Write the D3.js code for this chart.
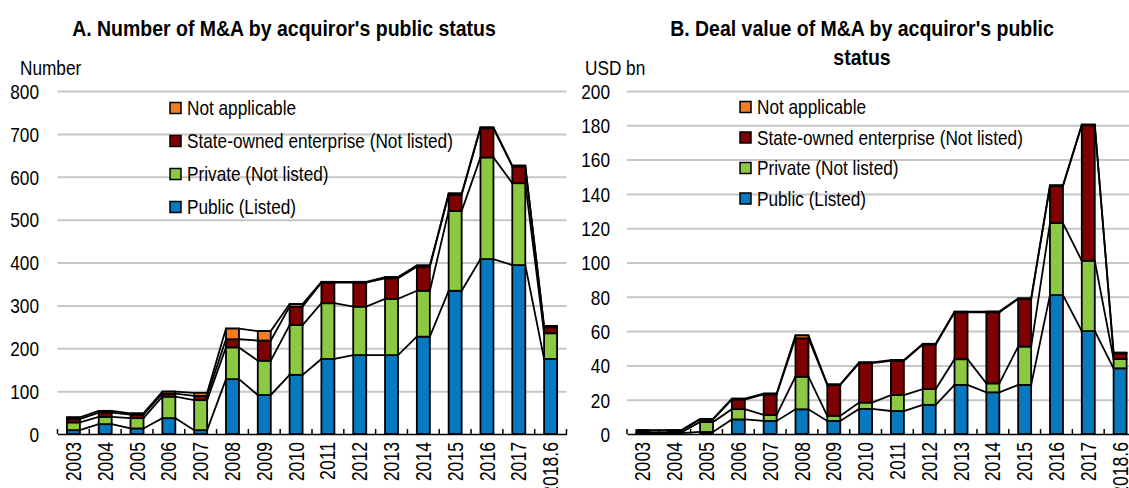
<!DOCTYPE html>
<html>
<head>
<meta charset="utf-8">
<script src="https://cdn.jsdelivr.net/npm/d3@7"></script>
<style>
  body { margin: 0; background: #fff; }
</style>
</head>
<body>
<div id="viz"></div>
<script>
// categories
const years = ["2003", "2004", "2005", "2006", "2007", "2008", "2009", "2010",
  "2011", "2012", "2013", "2014", "2015", "2016", "2017", "2018.6"];

const seriesNames = ["Public (Listed)", "Private (Not listed)",
  "State-owned enterprise (Not listed)", "Not applicable"];
const seriesColors = ["#0679c0", "#8cc841", "#7f0000", "#f47d20"];

// A. number of deals
const numPublic  = [9, 23, 13, 37, 9, 128, 91, 138, 175, 184, 184, 227, 334, 408, 394, 175];
const numPrivate = [18, 17, 24, 50, 70, 74, 80, 116, 130, 113, 131, 107, 186, 237, 191, 60];
const numSOE     = [8, 10, 8, 7, 10, 19, 47, 43, 48, 56, 48, 56, 38, 68, 39, 14];
const numNA      = [4, 4, 3, 5, 7, 25, 22, 6, 2, 2, 3, 3, 3, 2, 2, 3];

// B. deal value, USD bn
const valPublic  = [0.5, 0.5, 1.2, 8.5, 7.6, 14.4, 7.6, 14.6, 13.4, 17, 28.6, 24.3, 28.6, 81, 60, 38.3];
const valPrivate = [0.3, 0.3, 5.8, 6, 3.5, 19, 3, 3.7, 9.3, 9.2, 15, 5.2, 22.4, 42, 41, 5.4];
const valSOE     = [1.2, 1.2, 1.5, 5.6, 12, 22.4, 18, 23, 20, 26, 27.3, 41.5, 27.7, 21.6, 79, 3.3];
const valNA      = [0.2, 0.2, 0.3, 0.5, 0.5, 1.7, 0.3, 0.5, 0.4, 0.4, 0.4, 0.4, 0.4, 0.4, 0.4, 0.4];

const numTicks = [0, 100, 200, 300, 400, 500, 600, 700, 800];
const valTicks = [0, 20, 40, 60, 80, 100, 120, 140, 160, 180, 200];

const width = 1129, height = 488;
const FONT = "'Liberation Sans Narrow', 'Arial Narrow', 'Liberation Sans', Arial, sans-serif";

const svg = d3.select("#viz").append("svg")
  .attr("width", width)
  .attr("height", height);

// check whether a narrow face exists, otherwise squeeze the regular one
const probe = svg.append("text").style("font-size", "20px")
  .style("font-family", "'Liberation Sans Narrow', 'DejaVu Sans'")
  .text("State-owned enterprise");
const wNarrow = probe.node().getComputedTextLength();
probe.style("font-family", "'Liberation Sans'");
const wRegular = probe.node().getComputedTextLength();
probe.remove();
const squeeze = wNarrow < wRegular * 0.9 ? 1 : 0.82;

function label(g, x, y, s, opt = {}) {
  const sq = squeeze * (opt.stretch || 1);
  return g.append("text")
    .attr("transform", `translate(${x},${y}) rotate(${opt.rotate || 0}) scale(${sq},1)`)
    .attr("text-anchor", opt.anchor || "start")
    .attr("dy", opt.dy !== undefined ? opt.dy : "0.35em")
    .style("font-family", FONT)
    .style("font-size", (opt.size || 21) + "px")
    .style("font-weight", opt.weight || "normal")
    .attr("fill", "#000")
    .text(s);
}

function panel(cfg) {
  const g = svg.append("g");
  const x = d3.scaleBand().domain(years).range(cfg.xRange).padding(0);
  const y = d3.scaleLinear().domain([0, cfg.max]).range([434, 91]);
  const bw = 13;

  // gridlines
  const grid = g.append("g")
    .attr("transform", `translate(${cfg.xRange[0]},0)`)
    .call(d3.axisLeft(y).tickValues(cfg.ticks.slice(1)).tickSize(-(cfg.xRange[1] - cfg.xRange[0])).tickFormat(""));
  grid.select(".domain").remove();
  grid.selectAll("line").attr("stroke", "#c6c6c6").attr("stroke-width", 2);

  // y tick labels
  const yAx = g.append("g")
    .attr("transform", `translate(${cfg.labelRight},0)`)
    .call(d3.axisLeft(y).tickValues(cfg.ticks).tickSize(0));
  yAx.select(".domain").remove();
  yAx.selectAll("text")
    .attr("x", 0).attr("dy", "0.35em")
    .attr("transform", `scale(${squeeze},1)`)
    .style("font-family", FONT).style("font-size", "21px").attr("fill", "#000");

  // stacked data
  const rows = years.map((yr, i) => {
    const r = { year: yr };
    cfg.series.forEach((s, k) => r["s" + k] = s[i]);
    return r;
  });
  const keys = ["s0", "s1", "s2", "s3"];
  const stacked = d3.stack().keys(keys)(rows);

  // connecting lines between bar tops
  const line = d3.line();
  stacked.forEach(layer => {
    const pts = [];
    layer.forEach((d, i) => {
      const cx = x(years[i]) + x.bandwidth() / 2;
      pts.push([cx - bw / 2, y(d[1])]);
      pts.push([cx + bw / 2, y(d[1])]);
    });
    g.append("path").attr("d", line(pts))
      .attr("fill", "none").attr("stroke", "#000").attr("stroke-width", 1.8);
  });

  // bars
  stacked.forEach((layer, k) => {
    g.append("g").selectAll("rect")
      .data(layer)
      .join("rect")
      .attr("x", (d, i) => x(years[i]) + x.bandwidth() / 2 - bw / 2)
      .attr("y", d => y(d[1]))
      .attr("width", bw)
      .attr("height", d => y(d[0]) - y(d[1]))
      .attr("fill", seriesColors[k])
      .attr("stroke", "#000")
      .attr("stroke-width", 1.8);
  });

  // x axis
  const xAx = g.append("g")
    .attr("transform", "translate(0,434)")
    .call(d3.axisBottom(x).tickSize(0).tickSizeOuter(0));
  xAx.select(".domain").attr("stroke", "#000").attr("stroke-width", 1.5);
  xAx.selectAll("text")
    .attr("x", 0).attr("y", 0).attr("dy", "0.35em")
    .attr("text-anchor", "end")
    .attr("transform", `translate(0,8) rotate(-90) scale(${squeeze},1)`)
    .style("font-family", FONT).style("font-size", "21.5px").attr("fill", "#000");
  // boundary ticks pointing up
  const bounds = years.map(d => x(d)).concat([x.range()[1]]);
  g.append("g").selectAll("line")
    .data(bounds)
    .join("line")
    .attr("x1", d => d).attr("x2", d => d)
    .attr("y1", 434).attr("y2", 429)
    .attr("stroke", "#000").attr("stroke-width", 1.5);

  // titles and unit
  cfg.title.forEach((t, i) => label(g, cfg.titleX, 36 + i * 29, t,
    { anchor: "middle", weight: "bold", dy: 0, size: 22, stretch: 1.08 }));
  label(g, cfg.unitX, 75, cfg.unit, { dy: 0 });

  // legend (top item first)
  [3, 2, 1, 0].forEach((k, j) => {
    const cy = cfg.legY + j * cfg.legStep;
    g.append("rect")
      .attr("x", cfg.legX).attr("y", cy - 5.5)
      .attr("width", 11).attr("height", 11)
      .attr("fill", seriesColors[k]).attr("stroke", "#000").attr("stroke-width", 1.5);
    label(g, cfg.legX + 17, cy, seriesNames[k]);
  });
}

panel({
  xRange: [57.5, 566.5], max: 800, ticks: numTicks, labelRight: 39,
  series: [numPublic, numPrivate, numSOE, numNA],
  title: ["A. Number of M&A by acquiror's public status"], titleX: 284,
  unit: "Number", unitX: 20,
  legX: 170, legY: 108, legStep: 33
});

panel({
  xRange: [627, 1136], max: 200, ticks: valTicks, labelRight: 610,
  series: [valPublic, valPrivate, valSOE, valNA],
  title: ["B. Deal value of M&A by acquiror's public", "status"], titleX: 862,
  unit: "USD bn", unitX: 585,
  legX: 740, legY: 107, legStep: 30.5
});
</script>
</body>
</html>
